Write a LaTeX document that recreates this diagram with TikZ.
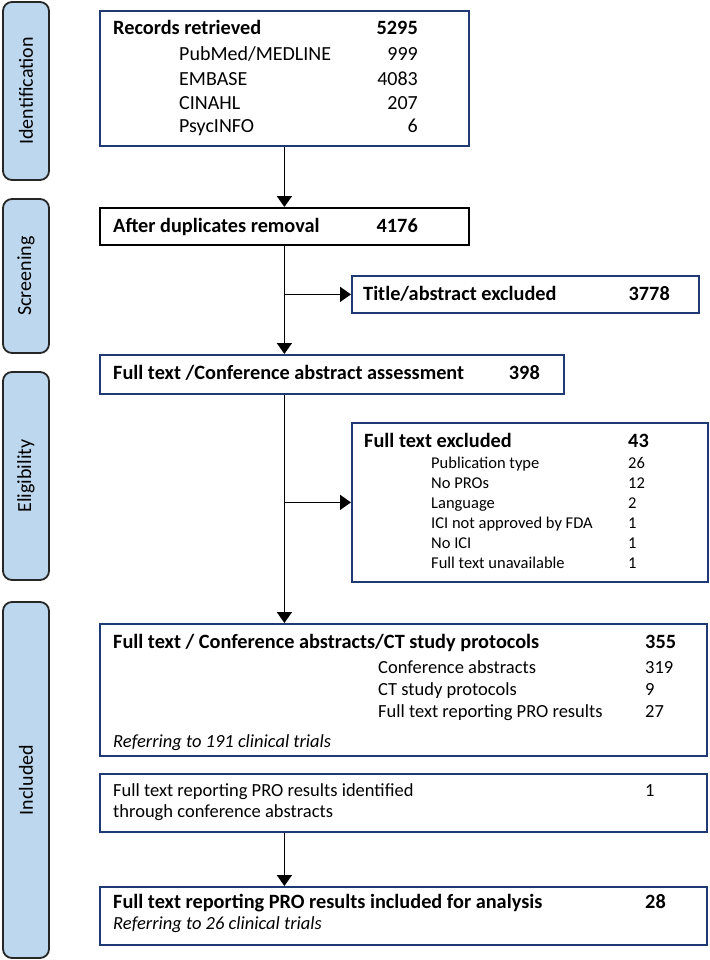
\documentclass[tikz,border=0pt]{standalone}
\usepackage{fontspec}
\setmainfont{Carlito}
\usetikzlibrary{arrows.meta}

\definecolor{stageblue}{HTML}{BDD7EE}
\definecolor{boxnavy}{HTML}{1F3A73}

\tikzset{
  stage/.style={rectangle, rounded corners=9pt, draw=black!85, line width=1.8pt, fill=stageblue, rotate=90, minimum height=46pt, font=\fontsize{20}{24}\selectfont},
  flowbox/.style={rectangle, draw=boxnavy, line width=1.8pt, anchor=north west, inner sep=0pt},
  headtxt/.style={anchor=base west, inner sep=0pt, font=\fontsize{20.3}{24}\selectfont\bfseries},
  headnum/.style={anchor=base east, inner sep=0pt, font=\fontsize{20.3}{24}\selectfont\bfseries},
  bignum/.style={anchor=base west, inner sep=0pt, font=\fontsize{20.3}{24}\selectfont\bfseries},
  srctxt/.style={anchor=base west, inner sep=0pt, font=\fontsize{20}{24}\selectfont},
  srcnum/.style={anchor=base east, inner sep=0pt, font=\fontsize{20}{24}\selectfont},
  reasontxt/.style={anchor=base west, inner sep=0pt, font=\fontsize{16.5}{20}\selectfont},
  inctxt/.style={anchor=base west, inner sep=0pt, font=\fontsize{18.5}{22}\selectfont},
  notetxt/.style={anchor=base west, inner sep=0pt, font=\fontsize{18.5}{22}\selectfont\itshape},
  flowarrow/.style={line width=1.8pt, -{Triangle[length=11pt,width=15pt]}}
}

\begin{document}
\begin{tikzpicture}[x=1pt,y=-1pt]
\useasboundingbox (0,0) rectangle (709,960);

% Stage labels
\node[stage, minimum width=178pt] (identification) at (26,91) {Identification};
\node[stage, minimum width=154pt] (screening) at (26,276) {Screening};
\node[stage, minimum width=208pt] (eligibility) at (26,476) {Eligibility};
\node[stage, minimum width=356pt] (included) at (26,780) {Included};

% Identification
\node[flowbox, minimum width=369pt, minimum height=135pt] (records) at (99,10) {};
\node[headtxt] (recordstxt) at (113,35) {Records retrieved};
\node[headnum] (recordsnum) at (418,35) {5295};
\node[srctxt] (pubmed) at (179,61) {PubMed/MEDLINE};
\node[srcnum] (pubmednum) at (418,61) {999};
\node[srctxt] (embase) at (179,86) {EMBASE};
\node[srcnum] (embasenum) at (418,86) {4083};
\node[srctxt] (cinahl) at (179,110) {CINAHL};
\node[srcnum] (cinahlnum) at (418,110) {207};
\node[srctxt] (psycinfo) at (179,133) {PsycINFO};
\node[srcnum] (psycinfonum) at (418,133) {6};

% Screening
\node[flowbox, draw=black, minimum width=369pt, minimum height=37pt] (dupl) at (99,207) {};
\node[headtxt] (dupltxt) at (113,232) {After duplicates removal};
\node[headnum] (duplnum) at (418,232) {4176};
\node[flowbox, minimum width=347pt, minimum height=37pt] (title) at (351,275) {};
\node[headtxt] (titletxt) at (363,300) {Title/abstract excluded};
\node[headnum] (titlenum) at (670,300) {3778};

% Eligibility
\node[flowbox, minimum width=464pt, minimum height=39pt] (assess) at (99,354) {};
\node[headtxt] (assesstxt) at (113,379) {Full text /Conference abstract assessment};
\node[headnum] (assessnum) at (540,379) {398};
\node[flowbox, minimum width=356pt, minimum height=159pt] (excl) at (351,422) {};
\node[headtxt] (excltxt) at (364,447) {Full text excluded};
\node[bignum] (exclnum) at (628,447) {43};
\foreach \reason/\n [count=\i] in {Publication type/26, No PROs/12, Language/2,
    ICI not approved by FDA/1, No ICI/1, Full text unavailable/1} {
  \node[reasontxt] (reason\i) at (431,448+20*\i) {\reason};
  \node[reasontxt] (reasonnum\i) at (628,448+20*\i) {\n};
}

% Included
\node[flowbox, minimum width=607pt, minimum height=132pt] (inclA) at (99,623) {};
\node[headtxt] (inclAtxt) at (113,648) {Full text / Conference abstracts/CT study protocols};
\node[bignum] (inclAnum) at (645,648) {355};
\node[inctxt] (confabs) at (378,673) {Conference abstracts};
\node[inctxt] (confabsnum) at (645,673) {319};
\node[inctxt] (ctprot) at (378,695) {CT study protocols};
\node[inctxt] (ctprotnum) at (645,695) {9};
\node[inctxt] (fulltext) at (378,717) {Full text reporting PRO results};
\node[inctxt] (fulltextnum) at (645,717) {27};
\node[notetxt] (inclAnote) at (113,747) {Referring to 191 clinical trials};

\node[flowbox, minimum width=607pt, minimum height=58pt] (inclB) at (99,773) {};
\node[inctxt] (inclBtxt) at (113,796) {Full text reporting PRO results identified};
\node[inctxt] (inclBtxt2) at (113,817) {through conference abstracts};
\node[inctxt] (inclBnum) at (645,796) {1};

\node[flowbox, minimum width=607pt, minimum height=58pt] (inclC) at (99,886) {};
\node[headtxt] (inclCtxt) at (113,908) {Full text reporting PRO results included for analysis};
\node[bignum] (inclCnum) at (645,908) {28};
\node[notetxt] (inclCnote) at (113,929) {Referring to 26 clinical trials};

% Connectors
\draw[flowarrow] (records) -- (dupl);
\draw[flowarrow] (dupl.south) -- (dupl.south |- assess.north);
\coordinate (split1) at (dupl.south |- title.west);
\draw[flowarrow] (split1) -- (title.west);
\draw[flowarrow] (assess.south -| dupl.south) -- (dupl.south |- inclA.north);
\coordinate (split2) at (dupl.south |- excl.west);
\draw[flowarrow] (split2) -- (excl.west);
\draw[flowarrow] (inclB.south -| dupl.south) -- (dupl.south |- inclC.north);

\end{tikzpicture}
\end{document}
